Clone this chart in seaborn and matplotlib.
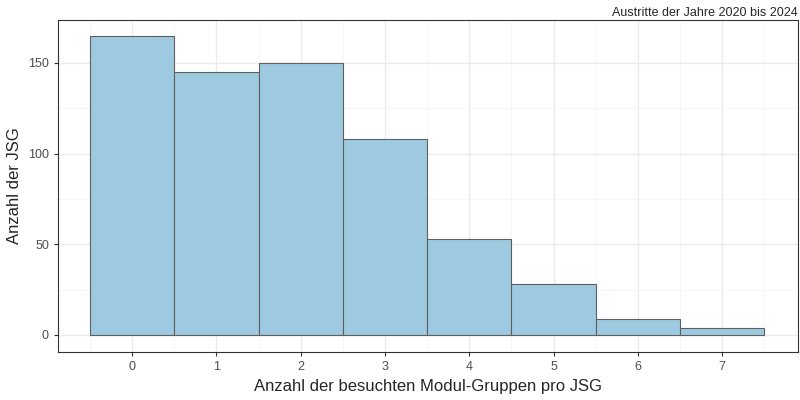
import numpy as np
import pandas as pd
import matplotlib.pyplot as plt
import seaborn as sns
from matplotlib.ticker import MultipleLocator

# Anzahl der besuchten Modul-Gruppen und Häufigkeiten
groups = [0, 1, 2, 3, 4, 5, 6, 7]
counts = [165, 145, 150, 108, 53, 28, 9, 4]

df = pd.DataFrame({"groups": groups, "counts": counts})

sns.set_style("whitegrid")
plt.rcParams['font.family'] = ['Liberation Sans', 'DejaVu Sans']

fig = plt.figure(figsize=(8, 4), dpi=100)
ax = fig.add_axes([0.0725, 0.12, 0.925, 0.83])

sns.histplot(data=df, x="groups", weights="counts", discrete=True,
             color="#9ECAE1", edgecolor="#5f5f5f", linewidth=0.8, alpha=1, ax=ax)

ax.set_xlim(-0.88, 7.9)
ax.set_ylim(-9.4, 173.7)
ax.xaxis.set_major_locator(MultipleLocator(1))
ax.xaxis.set_minor_locator(MultipleLocator(0.5))
ax.yaxis.set_major_locator(MultipleLocator(50))
ax.yaxis.set_minor_locator(MultipleLocator(25))
ax.grid(which="major", color="#ebebeb", linewidth=1.0)
ax.grid(which="minor", color="#f5f5f5", linewidth=0.6)
ax.set_axisbelow(True)
for s in ax.spines.values():
    s.set_color("#333333")
    s.set_linewidth(0.8)
ax.tick_params(axis="both", which="major", length=3, color="#333333",
               labelsize=9, labelcolor="#4d4d4d", bottom=True, left=True)
ax.tick_params(which="minor", length=0)

ax.set_xlabel("Anzahl der besuchten Modul-Gruppen pro JSG", fontsize=12)
ax.set_ylabel("Anzahl der JSG", fontsize=12)
ax.set_title("Austritte der Jahre 2020 bis 2024", loc="right", fontsize=9, pad=3)

fig.savefig("out.png", dpi=100)
